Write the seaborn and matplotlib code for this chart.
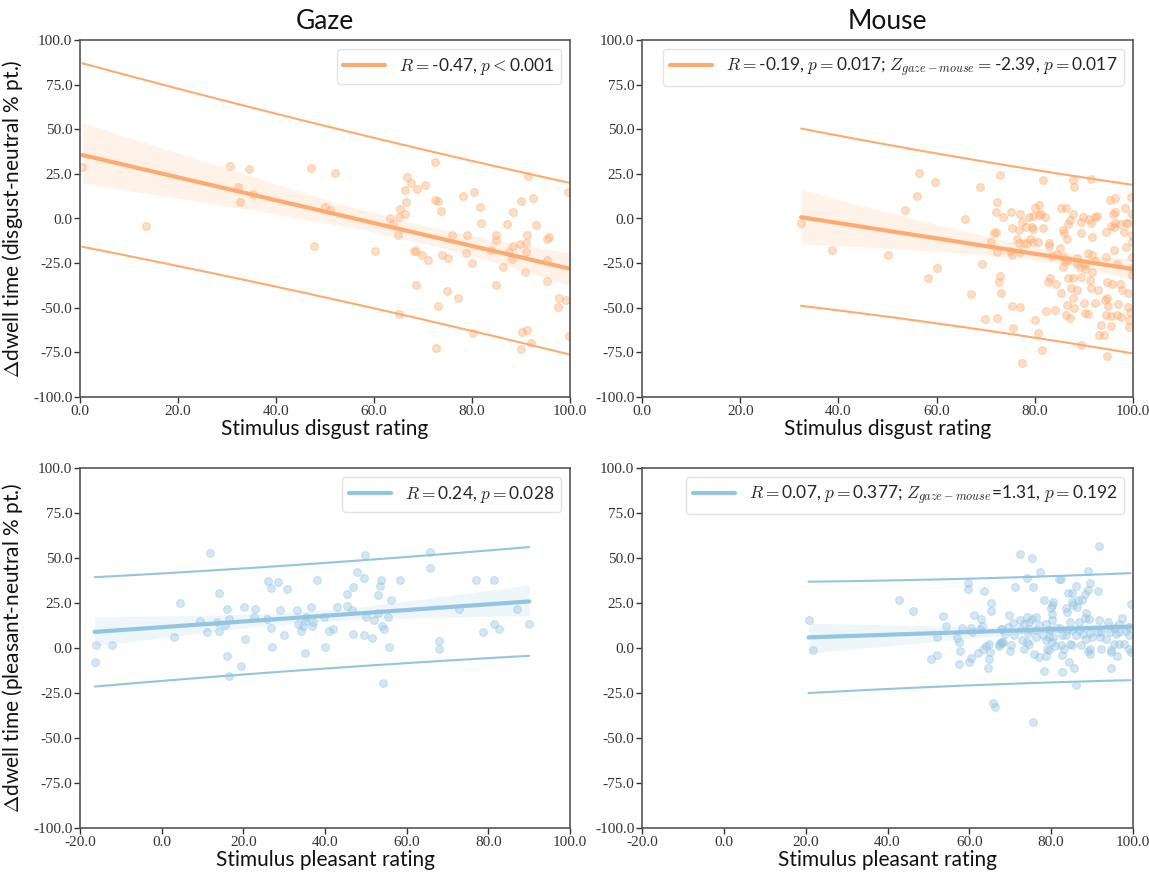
import numpy as np
import pandas as pd
import matplotlib
matplotlib.use("Agg")
import matplotlib.pyplot as plt
import seaborn as sns
from matplotlib.ticker import FixedLocator, FuncFormatter

# ---------------- data ----------------
gaze_disgust = [(0.5, 29.1), (13.4, -4.1), (30.6, 29.5), (34.4, 27.8), (32.3, 17.9), (32.7, 9.1), (35.3, 14.0),
    (47.2, 28.4), (52.0, 25.4), (47.7, -15.5), (49.9, 6.5), (51.1, 4.7), (60.3, -18.1), (63.3, 0.0), (63.8, -3.0),
    (65.2, 0.8), (65.4, 5.2), (66.4, 2.6), (64.8, -9.0), (66.8, 23.0), (67.5, 20.0), (66.4, 15.9), (66.6, 9.5),
    (68.8, 16.8), (70.5, 18.7), (72.5, 31.8), (72.4, 10.5), (73.1, 9.9), (73.6, 4.1), (68.2, -18.1), (68.6, -18.0),
    (69.8, -20.6), (71.0, -23.2), (68.6, -37.0), (73.0, -48.9), (72.7, -72.8), (74.8, -40.7), (77.2, -44.8),
    (73.8, -20.6), (75.1, -22.2), (76.0, -9.1), (78.9, -9.1), (78.7, -19.2), (80.0, -24.8), (78.1, 12.5),
    (80.5, 14.9), (81.7, 6.5), (81.9, -2.4), (80.3, -64.0), (83.9, -17.7), (84.8, -9.1), (84.9, -11.9),
    (84.8, -37.4), (86.3, -27.3), (87.1, -3.0), (88.4, 3.4), (90.1, 9.9), (91.4, 23.7), (92.5, 11.4), (93.1, -3.7),
    (91.3, -9.4), (87.6, -18.5), (88.4, -15.5), (89.7, -14.2), (91.0, -14.0), (91.1, -18.7), (88.1, -22.6),
    (90.8, -29.9), (95.3, -11.4), (95.8, -10.1), (95.3, -23.0), (95.3, -35.1), (90.3, -63.5), (91.3, -62.7),
    (92.0, -70.0), (90.1, -73.2), (97.7, -44.8), (99.2, -45.6), (97.6, -49.7), (99.7, -65.7), (99.5, 14.6),
    (65.2, -53.6)]

mouse_disgust = [(32.4, -2.6), (38.7, -17.4), (50.1, -20.2), (53.6, 4.9), (56.1, 12.5), (56.4, 25.4), (59.6, 20.3),
    (58.2, -33.2), (60.1, -27.5), (65.8, -0.2), (68.8, 17.4), (69.2, -25.6), (67.0, -42.4), (69.8, -56.2),
    (72.4, -55.6), (73.0, 24.1), (72.4, 9.5), (72.1, 3.7), (73.5, 0.7), (71.6, -8.4), (72.0, -7.3), (71.0, -13.4),
    (72.3, -18.7), (72.9, -32.3), (72.8, -35.3), (73.1, -41.6), (75.4, -5.6), (76.7, -6.3), (77.3, -1.7),
    (76.3, -11.4), (76.8, -13.6), (74.9, -18.1), (75.3, -20.6), (77.0, -18.9), (75.3, -49.1), (76.9, -49.7),
    (75.6, -61.6), (77.3, -80.8), (78.8, 0.9), (79.6, 1.5), (80.1, 6.0), (80.8, 7.5), (81.7, 21.3), (78.3, -4.7),
    (79.4, -4.7), (78.5, -14.0), (79.6, -13.3), (80.6, -13.2), (79.0, -11.6), (80.9, 1.9), (82.0, 0.7),
    (80.1, -57.0), (80.7, -64.0), (81.4, -73.8), (82.2, -51.9), (82.7, -35.3), (84.3, -36.8), (85.3, -41.6),
    (82.9, -14.0), (84.6, -20.0), (85.3, 5.8), (86.4, 5.8), (85.8, -6.3), (86.0, -8.2), (86.8, -3.2), (86.5, -11.4),
    (87.8, 21.3), (88.0, 17.4), (86.1, -24.1), (86.7, -33.4), (87.8, -33.2), (88.6, -39.8), (87.7, -44.3),
    (86.5, -48.3), (88.0, -50.2), (86.3, -54.3), (87.2, -55.6), (89.5, -32.7), (91.2, -34.6), (91.4, -39.0),
    (92.9, -40.2), (90.2, -28.2), (91.7, -29.7), (88.5, -25.6), (86.7, -23.1), (89.5, -8.2), (91.6, -10.1),
    (89.5, -1.9), (89.9, 0.7), (91.1, -0.2), (92.3, 0.7), (90.8, -19.6), (91.6, -20.4), (92.2, -23.7),
    (91.4, 22.2), (90.1, -47.4), (92.3, -47.1), (89.5, -71.0), (94.7, -35.3), (95.8, -36.8), (97.8, -40.0),
    (97.3, -36.6), (94.2, -45.8), (94.7, -44.5), (94.9, -48.9), (97.0, -48.0), (99.0, -49.7), (99.3, -52.5),
    (94.6, -54.3), (95.5, -54.9), (96.8, -54.3), (97.6, -55.1), (93.5, -59.6), (95.5, -60.0), (99.2, -57.0),
    (99.2, -60.7), (93.0, -65.2), (94.0, -65.2), (94.7, -76.9), (95.4, 10.3), (96.3, 11.6), (96.3, 3.5),
    (96.0, 2.4), (98.4, 5.8), (99.6, 12.3), (99.7, 2.4), (95.5, -4.1), (96.2, -4.9), (97.3, -3.0), (98.5, -2.6),
    (99.0, -2.6), (94.6, -7.8), (98.2, -7.7), (99.7, -9.1), (99.7, -12.9), (98.6, -16.1), (96.1, -17.5),
    (99.7, -21.3), (99.7, -27.8), (99.7, -31.5), (96.8, -25.6), (94.6, -21.3), (83.5, -20.9), (82.8, -15.5),
    (81.6, -5.4), (77.9, -13.8), (79.7, -6.0), (81.2, 2.6), (75.1, 3.9), (85.8, -26.9), (92.7, 1.5),
    (90.2, -53.0), (90.9, -53.6), (89.2, -27.4), (88.5, -22.2), (90.2, -26.0), (96.3, -2.6), (99.0, -41.8),
    (85.1, -16.6), (85.8, -21.3), (83.0, -33.4), (87.4, -39.0), (84.1, -51.2), (91.5, -2.6), (87.2, -0.8),
    (87.8, 2.5), (76.9, 2.6)]

gaze_pleasant = [(-16.4, -7.8), (-16.0, 1.7), (-12.2, 1.7), (2.9, 6.3), (4.4, 24.8), (11.9, 52.9), (9.4, 15.2),
    (11.0, 8.7), (13.6, 14.6), (14.0, 9.3), (14.1, 30.7), (15.6, 12.9), (16.6, 16.3), (16.1, 21.8), (16.0, -4.3),
    (16.4, -15.4), (19.5, -10.0), (20.1, 22.6), (20.5, 5.0), (22.8, 21.5), (22.7, 17.1), (26.0, 37.2),
    (26.7, 33.1), (28.5, 36.5), (30.8, 32.8), (25.9, 16.3), (26.8, 11.1), (26.9, 0.4), (29.0, 21.1), (30.0, 7.4),
    (33.2, 20.9), (33.5, 13.1), (34.0, 9.4), (34.5, 12.4), (35.0, 15.2), (35.4, 17.0), (36.5, 23.0), (37.1, 14.4),
    (36.9, 12.1), (35.1, -2.6), (38.1, 37.6), (39.7, 17.2), (40.0, 0.4), (41.0, 9.4), (42.0, 10.4), (42.9, 22.6),
    (45.4, 23.2), (45.5, 29.8), (46.6, 21.1), (46.9, 33.9), (47.9, 42.0), (49.7, 51.7), (49.6, 38.9), (50.0, 17.0),
    (49.5, 7.4), (46.8, 7.8), (51.6, 5.4), (52.0, 15.4), (52.9, 19.6), (53.1, 29.4), (53.4, 34.3), (53.8, 37.9),
    (54.0, 12.2), (54.5, 10.4), (55.4, 17.4), (55.7, 0.7), (54.2, -19.6), (56.2, 26.9), (58.3, 37.9),
    (65.7, 53.3), (65.7, 44.3), (67.9, 4.1), (68.0, -0.6), (72.8, 21.5), (77.1, 37.9), (78.6, 8.7), (81.3, 37.6),
    (81.5, 13.1), (82.7, 10.7), (87.0, 21.9), (90.0, 13.1)]

mouse_pleasant = [(20.7, 15.3), (21.7, -0.9), (42.9, 26.8), (46.2, 20.7), (50.6, -5.9), (52.2, -3.7), (53.6, 17.9),
    (54.3, 12.2), (52.1, 6.1), (57.0, 5.4), (57.4, 3.3), (57.8, -1.9), (57.4, -8.9), (58.1, 11.1), (59.7, 36.3),
    (59.7, 32.9), (61.2, 18.5), (60.4, 10.9), (60.7, 8.9), (59.9, -7.6), (60.4, -5.7), (62.2, -2.9), (62.8, 16.3),
    (63.5, 31.5), (62.5, 10.4), (63.4, -0.4), (64.5, -11.3), (65.4, 24.8), (65.2, 20.4), (64.9, 2.2), (65.0, -2.4),
    (65.8, -30.7), (66.3, -32.9), (67.2, 2.4), (67.7, 10.7), (69.8, 18.1), (69.9, -1.9), (70.6, 14.1), (70.8, 7.4),
    (71.2, 33.7), (72.4, 52.0), (72.3, 15.7), (72.6, 10.7), (73.3, -0.6), (74.0, 38.9), (74.1, 17.4), (74.4, 8.5),
    (75.2, 50.0), (75.5, 33.7), (75.5, -41.1), (74.5, 2.2), (76.3, 17.4), (77.0, -5.0), (77.3, 42.4), (78.3, 26.5),
    (78.3, -12.6), (78.9, -0.6), (78.8, 13.1), (79.6, 9.8), (80.1, 23.7), (80.5, 25.6), (80.4, 6.1), (80.9, 0.9),
    (82.0, 38.5), (82.4, 38.5), (82.1, 11.1), (82.6, -13.5), (82.5, 1.4), (83.6, 22.4), (84.0, 30.6), (84.6, 14.4),
    (85.0, 30.6), (85.4, 23.9), (86.1, 34.6), (86.1, -20.6), (85.7, -11.3), (84.4, -8.0), (85.0, 1.4), (86.5, 26.8),
    (87.5, 26.8), (88.2, 16.8), (88.4, 19.3), (89.0, 42.6), (89.1, 32.1), (89.6, 36.1), (89.1, -1.7), (89.4, -3.1),
    (91.8, 56.7), (91.4, 31.5), (91.6, 15.4), (92.0, 6.3), (92.2, -0.6), (94.6, -10.9), (94.7, -2.2), (93.9, 14.4),
    (95.4, 11.1), (96.2, -4.3), (97.4, 16.8), (98.3, 9.3), (99.4, 24.4), (99.4, -2.2), (89.6, 8.5), (87.7, 7.6),
    (86.1, 7.0), (83.6, 7.0), (81.3, 11.1), (78.0, 7.0), (80.1, 3.3), (72.8, 4.3), (67.9, 3.0), (95.3, 2.4),
    (97.9, 2.1), (96.5, 8.9), (63.1, 12.4), (67.7, 3.2), (68.3, 3.4), (73.4, 13.5), (74.7, 14.4), (74.7, 10.7),
    (75.4, 16.3), (74.2, 3.3), (77.0, 12.6), (76.4, 9.8), (78.7, 4.2), (79.9, 22.2), (80.1, 19.1), (80.3, 15.4),
    (79.5, 10.7), (82.7, 7.0), (83.1, -0.4), (83.9, 19.9), (85.1, 25.5), (86.3, 22.7), (88.3, 30.2), (89.2, 16.3),
    (86.8, 14.4), (86.8, 9.8), (89.9, 6.1), (93.3, 5.2), (96.6, 13.5), (99.1, 11.7), (96.6, 2.4), (94.6, -1.3),
    (99.0, -0.4), (89.6, -0.4), (87.4, 1.4), (82.7, -3.7), (78.7, -4.6), (79.5, -1.3), (70.1, 1.4), (67.3, 1.0),
    (64.8, -6.0), (64.0, 1.0), (75.8, -3.2), (68.6, 7.9), (67.9, 10.7), (69.5, 11.7), (76.3, 6.1), (79.5, 6.1),
    (85.1, 9.8), (83.9, 9.8), (94.3, 8.9), (95.9, 8.0), (99.0, 7.0), (92.3, 8.9), (91.4, 8.9), (88.4, 5.2),
    (84.6, 2.4)]

legend_labels = [
    r"$R=$-0.47, $p<$0.001",
    r"$R=$-0.19, $p=$0.017; $Z_{gaze-mouse}=$-2.39, $p=$0.017",
    r"$R=$0.24, $p=$0.028",
    r"$R=$0.07, $p=$0.377; $Z_{gaze-mouse}$=1.31, $p=$0.192",
]
col_titles = ["Gaze", "Mouse"]
x_labels = ["Stimulus disgust rating", "Stimulus pleasant rating"]
y_labels = [r"$\Delta$dwell time (disgust-neutral % pt.)", r"$\Delta$dwell time (pleasant-neutral % pt.)"]
x_ticks_disgust = [0, 20, 40, 60, 80, 100]
x_ticks_pleasant = [-20, 0, 20, 40, 60, 80, 100]
y_ticks = [-100, -75, -50, -25, 0, 25, 50, 75, 100]

ORANGE = "#fdab6e"
BLUE = "#93c4e2"
T_CRIT = 1.98

# ---------------- style ----------------
sns.set_theme(style="ticks")
plt.rcParams["font.family"] = ["Lato", "DejaVu Sans"]
plt.rcParams["mathtext.fontset"] = "cm"

fig = plt.figure(figsize=(11.49, 8.72), dpi=100)
W, H = 1149, 872
rects = [(80, 40, 490, 357), (642, 40, 491, 357), (80, 468, 490, 360), (642, 468, 491, 360)]
axes = [fig.add_axes([x / W, 1 - (y + h) / H, w / W, h / H]) for (x, y, w, h) in rects]

panels = [
    (gaze_disgust, ORANGE, (0, 100), x_ticks_disgust, 0, 0),
    (mouse_disgust, ORANGE, (0, 100), x_ticks_disgust, 1, 0),
    (gaze_pleasant, BLUE, (-20, 100), x_ticks_pleasant, 0, 1),
    (mouse_pleasant, BLUE, (-20, 100), x_ticks_pleasant, 1, 1),
]

tick_fmt = FuncFormatter(lambda v, p: f"{v:.1f}")

for i, (ax, (pts, color, xlim, xt, col, row)) in enumerate(zip(axes, panels)):
    df = pd.DataFrame(pts, columns=["x", "y"])
    sns.regplot(data=df, x="x", y="y", ax=ax, color=color, ci=95, n_boot=1000, seed=1,
                scatter_kws=dict(alpha=0.4, s=32, linewidths=0.8),
                line_kws=dict(lw=3, label=legend_labels[i]))
    # prediction interval
    n = len(df)
    slope, intercept = np.polyfit(df["x"], df["y"], 1)
    resid = df["y"] - (intercept + slope * df["x"])
    s = np.sqrt(np.sum(resid ** 2) / (n - 2))
    xg = np.linspace(df["x"].min(), df["x"].max(), 100)
    sxx = np.sum((df["x"] - df["x"].mean()) ** 2)
    half = T_CRIT * s * np.sqrt(1 + 1 / n + (xg - df["x"].mean()) ** 2 / sxx)
    yfit = intercept + slope * xg
    sns.lineplot(x=xg, y=yfit + half, ax=ax, color=color, lw=1.5)
    sns.lineplot(x=xg, y=yfit - half, ax=ax, color=color, lw=1.5)

    ax.set_xlim(*xlim)
    ax.set_ylim(-100, 100)
    ax.xaxis.set_major_locator(FixedLocator(xt))
    ax.yaxis.set_major_locator(FixedLocator(y_ticks))
    ax.xaxis.set_major_formatter(tick_fmt)
    ax.yaxis.set_major_formatter(tick_fmt)
    for lab in ax.get_xticklabels() + ax.get_yticklabels():
        lab.set_fontfamily(["Liberation Serif", "DejaVu Serif"])
        lab.set_fontsize(11)
    ax.tick_params(axis="both", length=4, width=1, pad=1.5, colors="#333333")
    for sp in ax.spines.values():
        sp.set_visible(True)
        sp.set_linewidth(1.2)
        sp.set_color("#555555")
    ax.set_xlabel(x_labels[row], fontsize=15, labelpad=1, color="#111111")
    if col == 0:
        ax.set_ylabel(y_labels[row], fontsize=15, labelpad=6, color="#111111")
    else:
        ax.set_ylabel("")
    if row == 0:
        ax.set_title(col_titles[col], fontsize=19, pad=8, color="#111111")
    ax.legend(loc="upper right", fontsize=12.5, handlelength=2.4, borderaxespad=0.5,
              framealpha=0.8, edgecolor="#dddddd")

fig.savefig("out.png", dpi=100)
